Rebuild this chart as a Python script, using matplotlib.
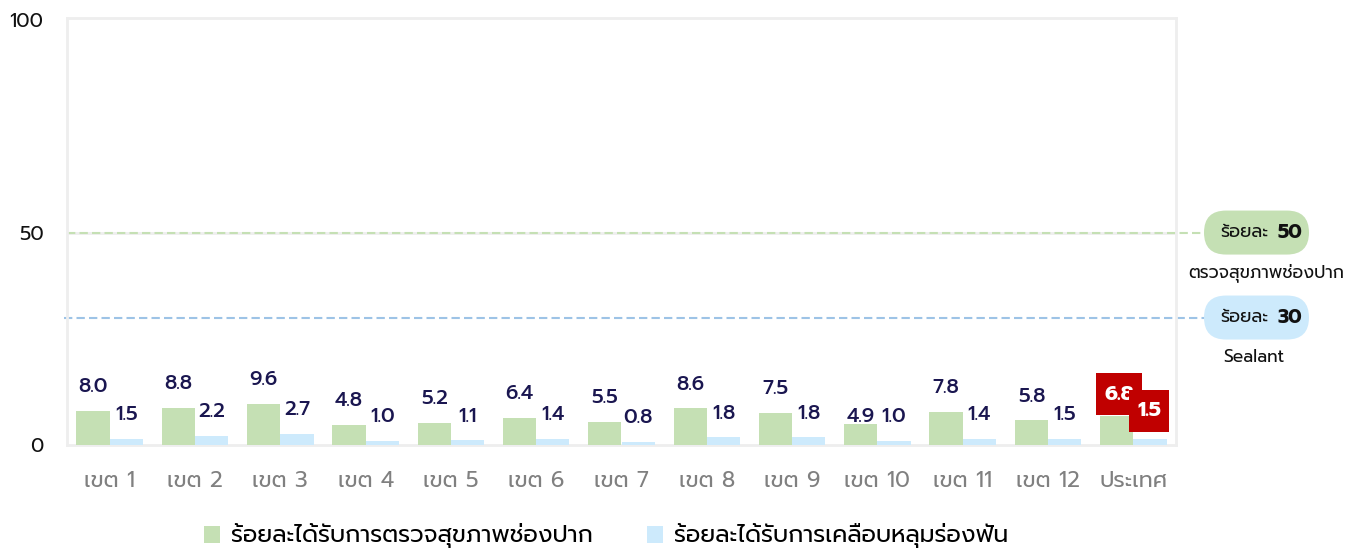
import matplotlib
matplotlib.use("Agg")
import numpy as np
import matplotlib.pyplot as plt
import matplotlib.transforms as mtransforms
from matplotlib.patches import FancyBboxPatch, Patch
from matplotlib.path import Path

plt.rcParams['font.family'] = ['Prompt', 'Kanit', 'DejaVu Sans']

# ข้อมูล
regions = ["เขต 1", "เขต 2", "เขต 3", "เขต 4", "เขต 5", "เขต 6", "เขต 7",
           "เขต 8", "เขต 9", "เขต 10", "เขต 11", "เขต 12", "ประเทศ"]
oral_exam = [8.0, 8.8, 9.6, 4.8, 5.2, 6.4, 5.5, 8.6, 7.5, 4.9, 7.8, 5.8, 6.8]
sealant = [1.5, 2.2, 2.7, 1.0, 1.1, 1.4, 0.8, 1.8, 1.8, 1.0, 1.4, 1.5, 1.5]
target_exam = 50
target_sealant = 30
yticks = [0, 50, 100]
legend_labels = ["ร้อยละได้รับการตรวจสุขภาพช่องปาก", "ร้อยละได้รับการเคลือบหลุมร่องฟัน"]
target_texts = ["ตรวจสุขภาพช่องปาก", "Sealant"]

green = "#c5e0b4"
blue = "#cdeafc"
navy = "#1a1650"
red = "#c00000"
border = "#eeeeee"


def red_box(x0, y0, width, height, mutation_size):
    # กล่องสี่เหลี่ยม padding แนวตั้งมากกว่าแนวนอน
    px, py = 0.4 * mutation_size, 0.54 * mutation_size
    return Path([(x0 - px, y0 - py), (x0 + width + px, y0 - py),
                 (x0 + width + px, y0 + height + py), (x0 - px, y0 + height + py),
                 (x0 - px, y0 - py)], closed=True)


W, H = 1357, 549
fig = plt.figure(figsize=(W / 100, H / 100), dpi=100)
ax = fig.add_axes([67 / W, 1 - 445 / H, (1176 - 67) / W, (445 - 18) / H])

x = np.arange(len(regions))
w = 0.39

ax.bar(x - w / 2, oral_exam, w, color=green, zorder=3)
ax.bar(x + w / 2, sealant, w, color=blue, zorder=3)

ax.set_xlim(-0.5, len(regions) - 0.5)
ax.set_ylim(0, 100.5)
ax.set_yticks(yticks)
ax.set_yticklabels([str(v) for v in yticks], fontsize=14.3, color="#111111")
ax.set_xticks(x)
ax.set_xticklabels(regions, fontsize=16, color="#808080")
ax.tick_params(axis="x", length=0, pad=19)
ax.tick_params(axis="y", length=0, pad=17)
ax.axhline(target_exam, color=border, lw=2, zorder=1)
for s in ax.spines.values():
    s.set_color(border)
    s.set_linewidth(2)

# ป้ายตัวเลข
lbl = dict(textcoords="offset points", ha="center", va="center",
           fontsize=14.5, fontweight="medium", color=navy, zorder=5)
last = len(regions) - 1
for i in range(last):
    if i == 9:
        ax.annotate(f"{oral_exam[i]:.1f}", (x[i] - w / 2, sealant[i]), xytext=(0, 17.5), **lbl)
    else:
        ax.annotate(f"{oral_exam[i]:.1f}", (x[i] - w / 2, oral_exam[i]), xytext=(0, 17.5), **lbl)
    ax.annotate(f"{sealant[i]:.1f}", (x[i] + w / 2, sealant[i]), xytext=(0, 17.5), **lbl)

# ประเทศ - กล่องแดง
ax.annotate(f"{oral_exam[last]:.1f}", (x[last] - w / 2, oral_exam[last]), xytext=(1.5, 15.8),
            textcoords="offset points", ha="center", va="center", fontsize=15,
            fontweight="bold", color="white", zorder=6,
            bbox=dict(boxstyle=red_box, fc=red, ec="none"))
ax.annotate(f"{sealant[last]:.1f}", (x[last] + w / 2, sealant[last]), xytext=(-0.6, 19.9),
            textcoords="offset points", ha="center", va="center", fontsize=15,
            fontweight="bold", color="white", zorder=7,
            bbox=dict(boxstyle=red_box, fc=red, ec="none"))

# เส้นเป้าหมาย
trans = mtransforms.blended_transform_factory(ax.transAxes, ax.transData)
ax.plot([0, 1.026], [target_exam, target_exam], transform=trans, color=green,
        lw=1.5, ls=(0, (4, 2)), clip_on=False, zorder=2)
ax.plot([-0.003, 1.026], [target_sealant, target_sealant], transform=trans,
        color="#9dc3e6", lw=1.5, ls=(0, (4, 2)), clip_on=False, zorder=2)

# ป้ายเป้าหมาย (pill)
ident = mtransforms.IdentityTransform()
for val, col, sub, subx in [(target_exam, green, target_texts[0], 1266),
                            (target_sealant, blue, target_texts[1], 1254)]:
    yd = ax.transData.transform((0, val))[1]
    pill = FancyBboxPatch((1204, yd - 22), 105, 44,
                          boxstyle="round,pad=0,rounding_size=22",
                          fc=col, ec="none", transform=ident)
    fig.patches.append(pill)
    fig.text(1268, yd, "ร้อยละ", transform=ident, ha="right", va="center",
             fontsize=13, color="#111111")
    fig.text(1277, yd, str(val), transform=ident, ha="left", va="center",
             fontsize=14, fontweight="bold", color="#111111")
    fig.text(subx, yd - 40, sub, transform=ident, ha="center", va="center",
             fontsize=12.6, color="#111111")

# legend
handles = [Patch(fc=green, ec="none"), Patch(fc=blue, ec="none")]
fig.legend(handles, legend_labels, loc="center", bbox_to_anchor=(606 / W, 1 - 536 / H),
           ncol=2, frameon=False, fontsize=17, handlelength=0.7, handleheight=0.7,
           handletextpad=0.45, columnspacing=2.3)

fig.savefig("out.png", dpi=100)
